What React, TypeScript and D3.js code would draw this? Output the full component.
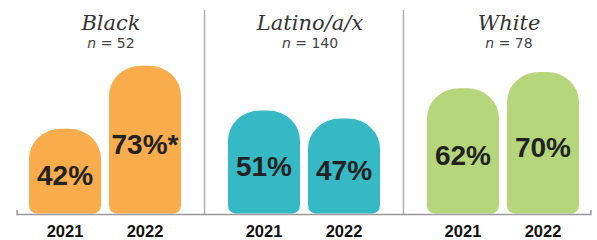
import React from 'react';
import * as d3 from 'd3';

const groups = ['Black', 'Latino/a/x', 'White'];
const groupN = [52, 140, 78];
const years = ['2021', '2022'];
const values2021 = [42, 51, 62];
const values2022 = [73, 47, 70];
const notes2022 = ['*', '', ''];
const colors = ['#f9ac4b', '#36b9c5', '#b6d67b'];

const width = 597;
const height = 240;
const base = 214;

const barPath = (x: number, w: number, yTop: number, y0: number) => {
  const rx = w / 2 - 4;
  const ry = 30;
  const rb = 8;
  return (
    `M${x},${y0 - rb} L${x},${yTop + ry} A${rx},${ry} 0 0 1 ${x + rx},${yTop} ` +
    `L${x + w - rx},${yTop} A${rx},${ry} 0 0 1 ${x + w},${yTop + ry} ` +
    `L${x + w},${y0 - rb} A${rb},${rb} 0 0 1 ${x + w - rb},${y0} ` +
    `L${x + rb},${y0} A${rb},${rb} 0 0 1 ${x},${y0 - rb} Z`
  );
};

const App = () => {
  const x0 = d3.scaleBand().domain(groups).range([29, 579]).paddingInner(0.236).paddingOuter(0);
  const x1 = d3.scaleBand().domain(years).range([0, x0.bandwidth()]).paddingInner(0.1);
  const y = d3.scaleLinear().domain([0, 100]).range([base, base - 203]);
  const step = x0.step();
  const gap = step - x0.bandwidth();

  return (
    <svg width={width} height={height} style={{ position: 'absolute', left: 0, top: 0, background: '#fff' }}>
      {groups.slice(1).map((g) => (
        <line key={g} x1={x0(g)! - gap / 2} x2={x0(g)! - gap / 2} y1={10} y2={base} stroke="#b2b2b2" strokeWidth={1.5} />
      ))}
      {groups.map((g, i) => {
        const gx = x0(g)!;
        const cx = gx + x0.bandwidth() / 2 + 6;
        const vals = [values2021[i], values2022[i]];
        const notes = ['', notes2022[i]];
        return (
          <g key={g}>
            <text x={cx} y={30} textAnchor="middle" fontFamily="DejaVu Serif" fontStyle="italic" fontSize={21} fill="#333">
              {g}
            </text>
            <text x={cx} y={48} textAnchor="middle" fontFamily="DejaVu Sans" fontSize={14} fill="#444">
              <tspan fontStyle="italic">n</tspan> = {groupN[i]}
            </text>
            {years.map((yr, j) => {
              const bx = gx + x1(yr)!;
              const bw = x1.bandwidth();
              const top = y(vals[j]);
              const mid = (top + base) / 2;
              return (
                <g key={yr}>
                  <path d={barPath(bx, bw, top, base - 0.5)} fill={colors[i]} />
                  <text x={bx + bw / 2} y={mid + 14} textAnchor="middle" fontFamily="Liberation Sans" fontWeight="bold" fontSize={28} fill="#222">
                    {vals[j]}%{notes[j]}
                  </text>
                  <text x={bx + bw / 2} y={237} textAnchor="middle" fontFamily="Liberation Sans" fontWeight="bold" fontSize={16.5} fill="#111">
                    {yr}
                  </text>
                </g>
              );
            })}
          </g>
        );
      })}
      <path d={`M17,${base - 4} L17,${base + 0.5} L591,${base + 0.5} L591,${base - 4}`} fill="none" stroke="#999" strokeWidth={1.5} />
    </svg>
  );
};

export default App;
